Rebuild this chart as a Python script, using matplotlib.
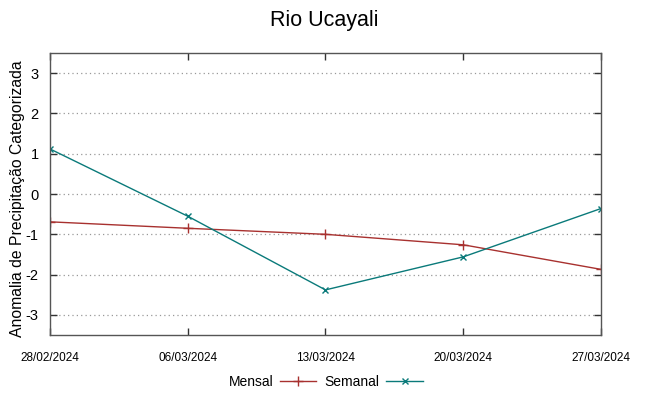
import matplotlib
matplotlib.use("Agg")
import matplotlib.pyplot as plt

plt.rcParams['font.family'] = ['Liberation Sans', 'DejaVu Sans']

# dados
datas = ['28/02/2024', '06/03/2024', '13/03/2024', '20/03/2024', '27/03/2024']
mensal = [-0.69, -0.85, -1.0, -1.26, -1.87]
semanal = [1.12, -0.55, -2.38, -1.56, -0.36]
yticks = [-3, -2, -1, 0, 1, 2, 3]

x = list(range(len(datas)))

fig = plt.figure(figsize=(6.49, 3.96), dpi=100)
ax = fig.add_axes([0.077, 0.154, 0.849, 0.712])

ax.plot(x, mensal, color='#a8312f', lw=1, marker='+', ms=7, mew=1, label='Mensal')
ax.plot(x, semanal, color='#0a7a7a', lw=1, marker='x', ms=5, mew=1, label='Semanal')

ax.set_xlim(0, len(datas) - 1)
ax.set_ylim(-3.5, 3.5)
ax.set_xticks(x)
ax.set_xticklabels(datas, fontsize=8.5)
ax.set_yticks(yticks)
ax.set_yticklabels([str(v) for v in yticks], fontsize=10.5)
ax.tick_params(direction='in', length=5, width=1, color='#333333', top=True, right=True, pad=8)
ax.tick_params(axis='x', pad=12)
ax.yaxis.grid(True, linestyle=(0, (1, 2.5)), color='#999999', lw=0.9)
for s in ax.spines.values():
    s.set_color('#555555')
    s.set_linewidth(1)

ax.set_ylabel('Anomalia de Precipitação Categorizada', fontsize=11.3)
ax.yaxis.set_label_coords(-0.045, 0.485)
fig.suptitle('Rio Ucayali', fontsize=15.5, y=0.975)

ax.legend(loc='center', bbox_to_anchor=(0.5, -0.167), ncol=2, frameon=False,
          markerfirst=False, fontsize=10, handlelength=2.6, columnspacing=0.6,
          handletextpad=0.5)

fig.savefig('out.png', dpi=100)
